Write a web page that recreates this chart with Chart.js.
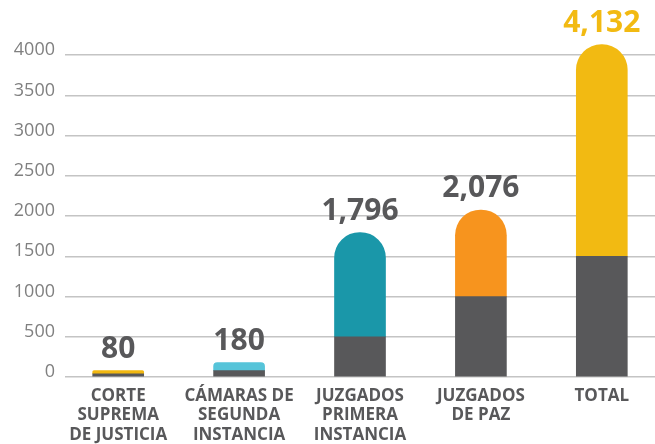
<!DOCTYPE html>
<html>
<head>
  <meta charset="utf-8">
  <title>Juzgados</title>
  <script src="https://cdn.jsdelivr.net/npm/chart.js"></script>
  <style>
    body {
      margin: 0;
      background: #ffffff;
    }
    #wrap {
      width: 655px;
      height: 444px;
    }
  </style>
</head>
<body>
  <div id="wrap">
    <canvas id="chart" width="655" height="444"></canvas>
  </div>

  <script>
    // data
    const categories = [
      ['CORTE', 'SUPREMA', 'DE JUSTICIA'],
      ['CÁMARAS DE', 'SEGUNDA', 'INSTANCIA'],
      ['JUZGADOS', 'PRIMERA', 'INSTANCIA'],
      ['JUZGADOS', 'DE PAZ'],
      ['TOTAL']
    ];
    const totals = [80, 180, 1796, 2076, 4132];
    const darkPart = [40, 80, 500, 1000, 1500];
    const topColors = ['#F2B810', '#56C4D9', '#1A97A9', '#F7941E', '#F2BA12'];
    const labelColors = ['#58585A', '#58585A', '#58585A', '#58585A', '#F2BA12'];
    const yTicks = [0, 500, 1000, 1500, 2000, 2500, 3000, 3500, 4000];

    const colorPart = totals.map((t, i) => t - darkPart[i]);

    // number labels above each bar
    const totalLabels = {
      id: 'totalLabels',
      afterDatasetsDraw(chart) {
        const ctx = chart.ctx;
        const meta = chart.getDatasetMeta(1);
        ctx.save();
        ctx.font = 'bold 30px "Open Sans"';
        ctx.textAlign = 'center';
        ctx.textBaseline = 'alphabetic';
        meta.data.forEach((bar, i) => {
          ctx.fillStyle = labelColors[i];
          ctx.fillText(totals[i].toLocaleString('en-US'), bar.x, bar.y - 13);
        });
        ctx.restore();
      }
    };

    const ctx = document.getElementById('chart').getContext('2d');
    const chart = new Chart(ctx, {
      type: 'bar',
      data: {
        datasets: [
          {
            label: 'base',
            data: darkPart.map((v, i) => ({ x: i, y: v })),
            backgroundColor: '#58585A',
            barThickness: 51
          },
          {
            label: 'resto',
            data: colorPart.map((v, i) => ({ x: i, y: v })),
            backgroundColor: topColors,
            borderRadius: 26,
            barThickness: 51
          }
        ]
      },
      options: {
        responsive: false,
        animation: false,
        layout: { padding: { top: 23, right: 0, bottom: 0, left: 0 } },
        plugins: {
          legend: { display: false },
          tooltip: { enabled: false }
        },
        scales: {
          x: {
            type: 'linear',
            stacked: true,
            offset: false,
            min: -0.44,
            max: 4.44,
            afterFit: (s) => { s.height = 67; },
            grid: { display: false },
            border: { display: false },
            ticks: {
              stepSize: 1,
              includeBounds: false,
              autoSkip: false,
              maxRotation: 0,
              padding: 1,
              color: '#58585A',
              font: { family: 'Open Sans', size: 17, weight: 'bold', lineHeight: 1.15 },
              callback: (v) => Number.isInteger(v) && categories[v] ? categories[v] : ''
            }
          },
          y: {
            stacked: true,
            min: 0,
            max: 4400,
            afterFit: (s) => { s.width = 65; },
            afterBuildTicks: (s) => { s.ticks = yTicks.map(v => ({ value: v })); },
            grid: { color: '#C4C4C4', lineWidth: 1.5, drawTicks: false },
            border: { display: false },
            ticks: {
              padding: 10,
              labelOffset: -5,
              color: '#808080',
              font: { family: 'Open Sans', size: 18 },
              callback: (v) => String(v)
            }
          }
        }
      },
      plugins: [totalLabels]
    });
  </script>
</body>
</html>
